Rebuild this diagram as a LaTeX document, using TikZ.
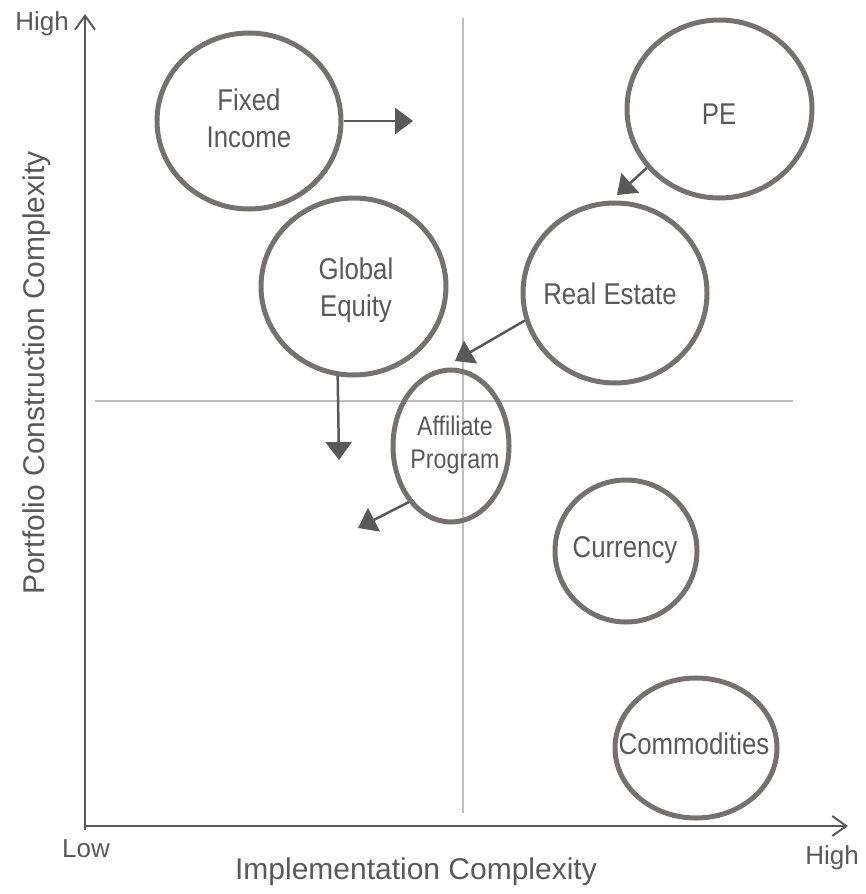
\documentclass[tikz,border=0pt]{standalone}
\usepackage{fontspec}
\setmainfont{Liberation Sans}
\newfontfamily\narrowfont[FakeStretch=0.86]{Liberation Sans}
\usetikzlibrary{shapes.geometric,arrows.meta}
\definecolor{txt}{HTML}{595959}
\definecolor{ring}{HTML}{767171}
\definecolor{grid}{HTML}{BFBFBF}
\tikzset{
  bubble/.style={draw=ring, line width=5pt, ellipse, inner sep=0pt, fill=none},
  btext/.style={text=txt, font=\narrowfont\fontsize{30}{37}\selectfont, align=center, inner sep=0pt},
  smalltext/.style={text=txt, font=\narrowfont\fontsize{27}{33}\selectfont, align=center, inner sep=0pt},
  axislabel/.style={text=txt, font=\fontsize{26}{30}\selectfont, inner sep=0pt},
  axistitle/.style={text=txt, font=\fontsize{30}{34}\selectfont, inner sep=0pt},
  axisline/.style={draw=txt, line width=2pt, -{Straight Barb[length=14pt,width=20pt,line width=2pt]}},
  gridline/.style={draw=grid, line width=2pt},
  move/.style={draw=txt, line width=2.5pt, -{Triangle[length=18pt,width=26pt]}}
}
\begin{document}
\begin{tikzpicture}[x=1pt,y=-1pt]
\useasboundingbox (0,0) rectangle (866,894);
% quadrant lines
\coordinate (vtop) at (463,18);
\coordinate (vbot) at (463,813);
\coordinate (hl) at (95,401);
\coordinate (hr) at (793,401);
\draw[gridline] (vtop) -- (vbot);
\draw[gridline] (hl) -- (hr);
% axes
\coordinate (orig) at (85,830);
\coordinate (xo) at (85,826);
\coordinate (xend) at (848,826);
\coordinate (yend) at (85,14);
\draw[axisline] (orig) -- (yend);
\draw[axisline] (xo) -- (xend);
\node[axislabel] (hightop) at (42,24) {High};
\node[axislabel] (low) at (86,849) {Low};
\node[axislabel] (highright) at (832,858) {High};
\node[axistitle] (xtitle) at (416,872) {Implementation Complexity};
\node[axistitle, rotate=90] (ytitle) at (37,373) {Portfolio Construction Complexity};
% bubbles
\node[bubble, minimum width=184pt, minimum height=176pt] (fi) at (249,121) {};
\node[btext] (fit) at (249,118) {Fixed\\Income};
\node[bubble, minimum width=185pt, minimum height=178pt] (pe) at (719.5,109) {};
\node[btext] (pet) at (719,114) {PE};
\node[bubble, minimum width=185pt, minimum height=177pt] (ge) at (353.5,286.5) {};
\node[btext] (get) at (356,290) {Global\\Equity};
\node[bubble, minimum width=184pt, minimum height=180pt] (re) at (615,293) {};
\node[btext] (ret) at (610,294) {Real Estate};
\node[bubble, minimum width=116pt, minimum height=152pt] (af) at (451,446) {};
\node[smalltext] (aft) at (455,445) {Affiliate\\Program};
\node[bubble, minimum width=142pt, minimum height=142pt] (cu) at (626,551) {};
\node[btext] (cut) at (625,550) {Currency};
\node[bubble, minimum width=162pt, minimum height=140pt] (co) at (696,748) {};
\node[btext] (cot) at (694,744) {Commodities};
% movement arrows
\coordinate (fiT) at (413,121);
\coordinate (geT) at (339,460);
\coordinate (reT) at (455,361);
\coordinate (peT) at (617,195);
\coordinate (afT) at (358,528);
\draw[move] (fi.east) -- (fiT);
\draw[move] (ge.260) -- (geT);
\draw[move] (re.197) -- (reT);
\draw[move] (pe.219) -- (peT);
\draw[move] (af.233) -- (afT);
\end{tikzpicture}
\end{document}
